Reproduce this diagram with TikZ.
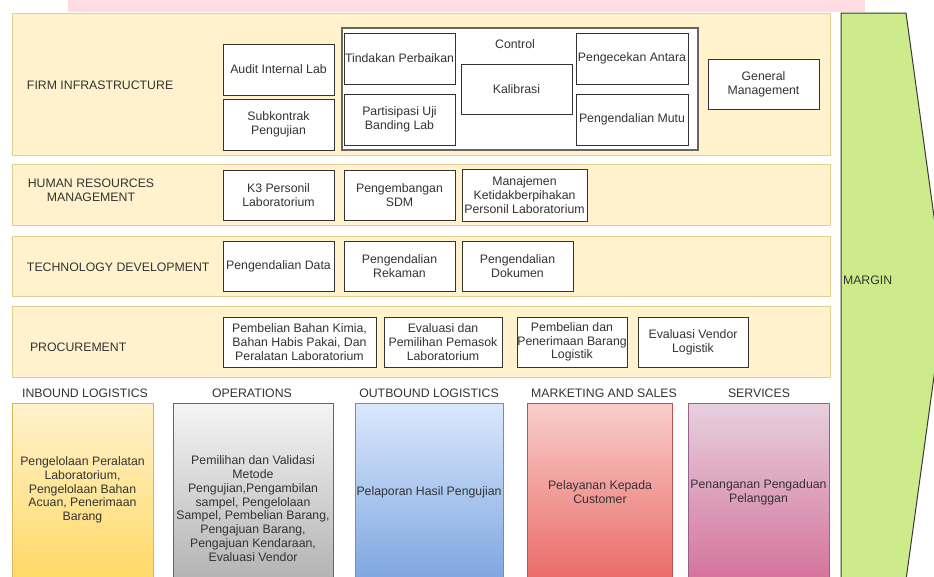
\documentclass[tikz,border=0pt]{standalone}
\usepackage{fontspec}
\setmainfont{Liberation Sans}
\definecolor{bandfill}{HTML}{FFF2CC}
\definecolor{bandline}{HTML}{E3CF8E}
\definecolor{pinktop}{HTML}{FFDCE1}
\definecolor{grn}{HTML}{CDEB8B}
\definecolor{grnline}{HTML}{36393D}
\definecolor{txt}{HTML}{333333}
\definecolor{boxline}{HTML}{333333}
\definecolor{ctrlline}{HTML}{666666}
\definecolor{inT}{HTML}{FFF2CC}\definecolor{inB}{HTML}{FFD966}\definecolor{inL}{HTML}{D6B656}
\definecolor{opT}{HTML}{F5F5F5}\definecolor{opB}{HTML}{B3B3B3}\definecolor{opL}{HTML}{666666}
\definecolor{ouT}{HTML}{DAE8FC}\definecolor{ouB}{HTML}{7EA6E0}\definecolor{ouL}{HTML}{6C8EBF}
\definecolor{maT}{HTML}{F8CECC}\definecolor{maB}{HTML}{EA6B66}\definecolor{maL}{HTML}{B85450}
\definecolor{seT}{HTML}{E6D0DE}\definecolor{seB}{HTML}{D5739D}\definecolor{seL}{HTML}{996185}
% \bxn{style}{name}{x1}{y1}{x2}{y2}{text}
\newcommand\bxn[7]{\node[#1, minimum width={(#5-#3)*1pt}, minimum height={(#6-#4)*1pt}] (#2) at ({(#3+#5)/2},{(#4+#6)/2}) {#7};}
\begin{document}
\begin{tikzpicture}[x=1pt,y=-1pt,
  font=\fontsize{12.3}{13.8}\selectfont,
  base/.style={inner sep=0pt, outer sep=0pt, text=txt, align=center},
  band/.style={base, fill=bandfill, draw=bandline, line width=1pt},
  wbox/.style={base, fill=white, draw=boxline, line width=1pt},
  ctrl/.style={base, fill=white, draw=ctrlline, line width=1.2pt},
  lbl/.style={base, anchor=west},
  prim/.style={base, line width=1pt},
  ptxt/.style={base}]
\useasboundingbox (0,0) rectangle (934,576);
\clip (0,0) rectangle (934,576);
\fill[pinktop] (68,-2) rectangle (865,12);

% Firm infrastructure
\bxn{band}{firm}{12}{13}{830}{155}{}
\node[lbl] (firmL) at (27,85) {FIRM INFRASTRUCTURE};
\bxn{wbox}{audit}{223}{44}{334}{95}{Audit Internal Lab}
\bxn{wbox}{subk}{223}{99}{334}{150}{Subkontrak\\Pengujian}
\bxn{ctrl}{control}{342}{28}{698}{150}{}
\node[base] (controlL) at (515,44) {Control};
\bxn{wbox}{tindakan}{344}{33}{455}{84}{Tindakan Perbaikan}
\bxn{wbox}{partisipasi}{344}{94}{455}{145}{Partisipasi Uji\\Banding Lab}
\bxn{wbox}{kalibrasi}{461}{64}{572}{114}{Kalibrasi}
\bxn{wbox}{cek}{576}{33}{688}{84}{Pengecekan Antara}
\bxn{wbox}{mutu}{576}{94}{688}{145}{Pengendalian Mutu}
\bxn{wbox}{gm}{708}{59}{819}{109}{General\\Management}

% Human resources
\bxn{band}{hr}{12}{164}{830}{225}{}
\node[base] (hrL) at (91,190) {HUMAN RESOURCES\\MANAGEMENT};
\bxn{wbox}{k3}{223}{170}{334}{220}{K3 Personil\\Laboratorium}
\bxn{wbox}{sdm}{344}{170}{455}{220}{Pengembangan\\SDM}
\bxn{wbox}{netral}{462}{169}{587}{221}{Manajemen\\Ketidakberpihakan\\Personil Laboratorium}

% Technology development
\bxn{band}{tech}{12}{236}{830}{296}{}
\node[lbl] (techL) at (27,267) {TECHNOLOGY DEVELOPMENT};
\bxn{wbox}{data}{223}{241}{334}{291}{Pengendalian Data}
\bxn{wbox}{rekaman}{344}{241}{455}{291}{Pengendalian\\Rekaman}
\bxn{wbox}{dokumen}{462}{241}{573}{291}{Pengendalian\\Dokumen}

% Procurement
\bxn{band}{proc}{12}{306}{830}{377}{}
\node[lbl] (procL) at (30,347) {PROCUREMENT};
\bxn{wbox}{kimia}{223}{317}{376}{367}{Pembelian Bahan Kimia,\\Bahan Habis Pakai, Dan\\Peralatan Laboratorium}
\bxn{wbox}{pemasok}{384}{317}{502}{367}{Evaluasi dan\\Pemilihan Pemasok\\Laboratorium}
\bxn{wbox}{logistik}{517}{317}{627}{367}{Pembelian dan\\Penerimaan Barang\\Logistik}
\bxn{wbox}{vendor}{638}{317}{748}{367}{Evaluasi Vendor\\Logistik}

% Primary activities
\node[base] (inL) at (85,393) {INBOUND LOGISTICS};
\node[base] (opL) at (252,393) {OPERATIONS};
\node[base] (ouL) at (429,393) {OUTBOUND LOGISTICS};
\node[base] (maL) at (604,393) {MARKETING AND SALES};
\node[base] (seL) at (759,393) {SERVICES};
\bxn{prim, top color=inT, bottom color=inB, draw=inL}{inbound}{12}{403}{153}{580}{}
\bxn{prim, top color=opT, bottom color=opB, draw=opL}{operations}{173}{403}{333}{580}{}
\bxn{prim, top color=ouT, bottom color=ouB, draw=ouL}{outbound}{355}{403}{503}{580}{}
\bxn{prim, top color=maT, bottom color=maB, draw=maL}{marketing}{527}{403}{672}{580}{}
\bxn{prim, top color=seT, bottom color=seB, draw=seL}{services}{688}{403}{829}{580}{}
\node[ptxt] (inT) at (82.5,490) {Pengelolaan Peralatan\\Laboratorium,\\Pengelolaan Bahan\\Acuan, Penerimaan\\Barang};
\node[ptxt] (opT) at (253,508.5) {Pemilihan dan Validasi\\Metode\\Pengujian,Pengambilan\\sampel, Pengelolaan\\Sampel, Pembelian Barang,\\Pengajuan Barang,\\Pengajuan Kendaraan,\\Evaluasi Vendor};
\node[ptxt] (ouT) at (429,492) {Pelaporan Hasil Pengujian};
\node[ptxt] (maT) at (600,492) {Pelayanan Kepada\\Customer};
\node[ptxt] (seT) at (758.5,492) {Penanganan Pengaduan\\Pelanggan};

% Margin arrow
\filldraw[fill=grn, draw=grnline, line width=1pt] (841,13) -- (906,13) -- (945,296.5) -- (906,580) -- (841,580) -- cycle;
\node[lbl] (margin) at (843,280) {MARGIN};
\end{tikzpicture}
\end{document}
